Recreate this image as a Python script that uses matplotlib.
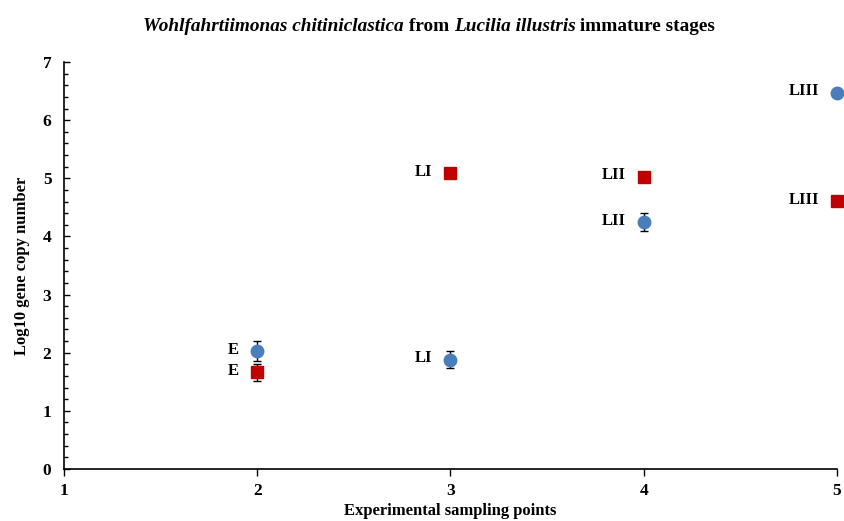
import matplotlib
matplotlib.use("Agg")
import matplotlib.pyplot as plt
from matplotlib.ticker import MultipleLocator

plt.rcParams['font.family'] = ['Liberation Serif', 'DejaVu Serif']

sampling_points = [2, 3, 4, 5]
stage_labels = ["E", "LI", "LII", "LIII"]
blue_values = [2.03, 1.88, 4.25, 6.47]
blue_errors = [0.18, 0.15, 0.16, 0.03]
red_values = [1.66, 5.09, 5.03, 4.61]
red_errors = [0.15, 0.05, 0.05, 0.05]

fig = plt.figure(figsize=(8.45, 5.21), dpi=100)
ax = fig.add_axes([0.0757, 0.0998, 0.9148, 0.7812])

ax.errorbar(sampling_points, blue_values, yerr=blue_errors, fmt='o', color='#4A7EBB',
            ecolor='black', elinewidth=1, capsize=3, capthick=1, markersize=9, zorder=3,
            clip_on=False)
ax.errorbar(sampling_points, red_values, yerr=red_errors, fmt='s', color='#C00000',
            ecolor='black', elinewidth=1, capsize=3, capthick=1, markersize=8.5, zorder=3,
            clip_on=False)

for x, y, lab in zip(sampling_points, blue_values, stage_labels):
    ax.annotate(lab, (x, y), xytext=(-13, 1), textcoords='offset points',
                ha='right', va='center', fontsize=12, fontweight='bold')
for x, y, lab in zip(sampling_points, red_values, stage_labels):
    ax.annotate(lab, (x, y), xytext=(-13, 1), textcoords='offset points',
                ha='right', va='center', fontsize=12, fontweight='bold')

ax.set_xlim(1, 5)
ax.set_ylim(0, 7)
ax.xaxis.set_major_locator(MultipleLocator(1))
ax.yaxis.set_major_locator(MultipleLocator(1))
ax.yaxis.set_minor_locator(MultipleLocator(0.2))
ax.tick_params(axis='y', which='both', direction='in', length=4, width=1, pad=9)
ax.tick_params(axis='x', which='major', direction='out', length=5, width=1, pad=5)
ax.tick_params(axis='y', which='minor', length=3)
for t in ax.get_xticklabels() + ax.get_yticklabels():
    t.set_fontsize(12.5)
    t.set_fontweight('bold')
for s in ['top', 'right']:
    ax.spines[s].set_visible(False)
for s in ['left', 'bottom']:
    ax.spines[s].set_linewidth(1.2)

ax.set_xlabel('Experimental sampling points', fontsize=12, fontweight='bold', labelpad=3)
ax.set_ylabel('Log10 gene copy number', fontsize=12, fontweight='bold', labelpad=9)

# Title with mixed styles
pieces = [("Wohlfahrtiimonas chitiniclastica", 'italic'), (" from ", 'normal'),
          ("Lucilia illustris", 'italic'), (" immature stages", 'normal')]
fig.canvas.draw()
renderer = fig.canvas.get_renderer()
texts = []
widths = []
for s, st in pieces:
    t = fig.text(0, 0, s, fontsize=13.9, fontweight='bold', style=st, va='baseline')
    bb = t.get_window_extent(renderer)
    texts.append(t)
    widths.append(bb.width)
total = sum(widths)
fw = fig.get_figwidth() * fig.dpi
x0 = 143 / fw
yb = 1 - 31 / 521
cur = x0
for t, w in zip(texts, widths):
    t.set_position((cur, yb))
    cur += w / fw

fig.savefig('out.png', dpi=100)
